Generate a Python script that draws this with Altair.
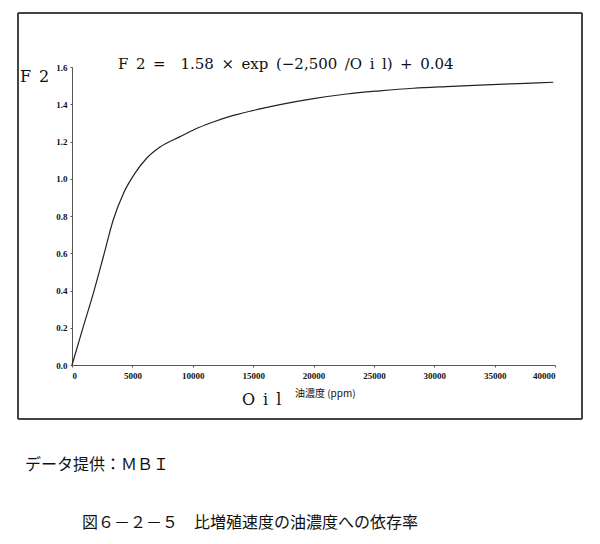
import altair as alt
import pandas as pd

# Data
oil = [0, 936, 1765, 2590, 3420, 4250, 5220, 6180, 7290, 8944, 10500, 11700,
       13360, 15570, 17226, 20000, 22750, 25500, 28270, 31000, 33790, 37000, 39860]
f2 = [0.0, 0.206, 0.385, 0.58, 0.78, 0.92, 1.03, 1.11, 1.17, 1.226, 1.275, 1.305,
      1.34, 1.375, 1.398, 1.43, 1.455, 1.472, 1.486, 1.495, 1.503, 1.511, 1.518]

y_ticks = [0.0, 0.2, 0.4, 0.6, 0.8, 1.0, 1.2, 1.4, 1.6]
x_ticks = [0, 5000, 10000, 15000, 20000, 25000, 30000, 35000, 40000]

SP = "\u2002"
equation = f"F{SP}2{SP}={SP}{SP}1.58{SP}×{SP}exp{SP}(−2,500{SP}/O{SP}i{SP}l){SP}+{SP}0.04"
y_label = f"F{SP}2"
x_label_1 = f"O{SP}i{SP}l"
x_label_2 = "油濃度 (ppm)"
source_note = "データ提供：ＭＢＩ"
caption = "図６－２－５　比増殖速度の油濃度への依存率"

df = pd.DataFrame({"oil": oil, "f2": f2})

SERIF = "Liberation Serif"
EQ = "DejaVu Serif"
JP = "Noto Sans CJK JP"

base = alt.Chart(df)

line = base.mark_line(color="#222222", strokeWidth=1.2, interpolate="monotone").encode(
    x=alt.X("oil:Q", scale=alt.Scale(domain=[0, 40000], nice=False),
            axis=alt.Axis(values=x_ticks, format="d", title=None, grid=False,
                          labelFont=SERIF, labelFontSize=9, labelFontWeight="bold",
                          labelColor="#111111", domainColor="#555555", tickColor="#555555",
                          tickSize=2, labelPadding=4)),
    y=alt.Y("f2:Q", scale=alt.Scale(domain=[0, 1.6], nice=False),
            axis=alt.Axis(values=y_ticks, format=".1f", title=None, grid=False,
                          labelFont=SERIF, labelFontSize=9, labelFontWeight="bold",
                          labelColor="#111111", domainColor="#555555", tickColor="#555555",
                          tickSize=2, labelPadding=3)),
)

frame = base.mark_rect(fill=None, stroke="#444444", strokeWidth=1).encode(
    x=alt.value(-54), x2=alt.value(510), y=alt.value(-54), y2=alt.value(352)
)

def txt(text, x, y, size, font, align="left", weight="normal"):
    return alt.Chart(pd.DataFrame({"t": [text]})).mark_text(
        align=align, baseline="middle", fontSize=size, font=font,
        color="#111111", fontWeight=weight
    ).encode(text="t:N", x=alt.value(x), y=alt.value(y))

texts = [
    txt(equation, 46, -3, 15, EQ),
    txt(y_label, -52, 10, 16, EQ),
    txt(x_label_1, 170, 333, 16, EQ),
    txt(x_label_2, 223, 327, 10, JP),
    txt(source_note, -47, 398, 16, JP),
    txt(caption, 10, 456, 16, JP),
]

chart = alt.layer(frame, line, *texts).properties(
    width=483, height=298,
    padding={"left": 72, "top": 67, "right": 45, "bottom": 179},
    autosize=alt.AutoSizeParams(type="none"),
    background="white",
).configure_view(stroke=None)

chart.save("out.html", embed_options={"renderer": "svg", "actions": False})
